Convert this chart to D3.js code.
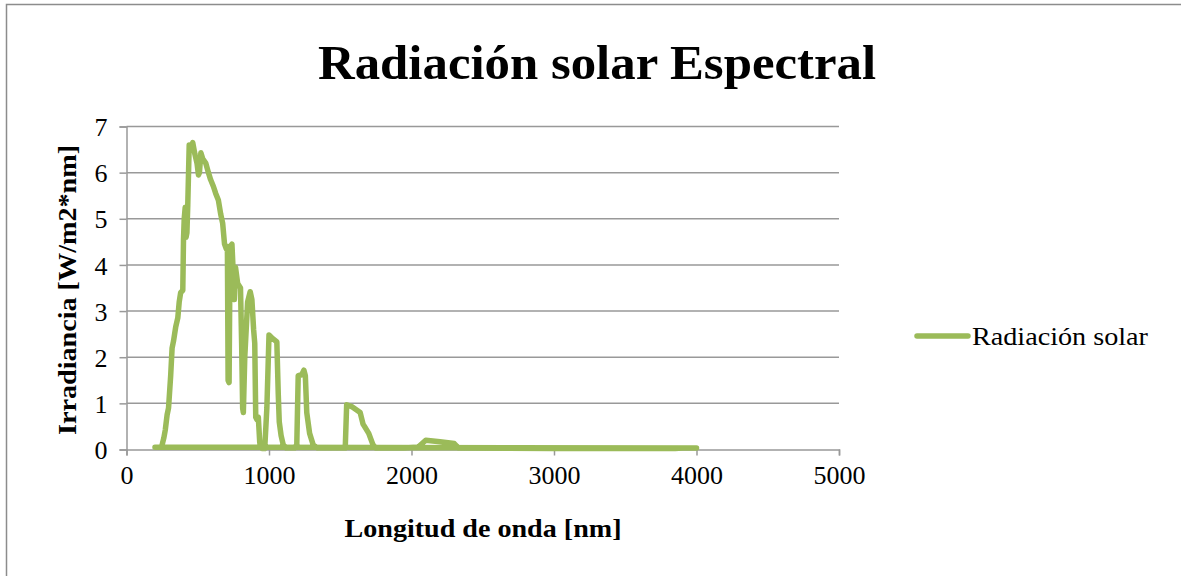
<!DOCTYPE html>
<html>
<head>
<meta charset="utf-8">
<script src="https://cdnjs.cloudflare.com/ajax/libs/d3/7.8.5/d3.min.js"></script>
<style>
  body { margin: 0; background: #fff; }
  text { font-family: "Liberation Serif", "DejaVu Serif", serif; fill: #000; }
</style>
</head>
<body>
<div id="chart"></div>
<script>
// Data
var wavelength = [250, 262, 272, 285, 295, 310, 320, 330, 345, 360, 370, 380, 395, 400, 405, 412, 418, 424, 430, 440,
  455, 465, 480, 495, 505, 512, 522, 535, 557, 575, 590, 610, 626, 645, 661, 675, 688, 700, 708, 713,
  720, 727, 740, 748, 757, 765, 780, 800, 808, 815, 820, 830, 850, 868, 880, 892, 900, 907, 915, 925,
  935, 950, 970, 985, 1000, 1020, 1055, 1065, 1072, 1085, 1100, 1120, 1180, 1195, 1205, 1230, 1245, 1255, 1265, 1285,
  1310, 1340, 1450, 1535, 1545, 1580, 1640, 1660, 1670, 1700, 1730, 1750, 1950, 2045, 2100, 2200, 2300, 2330, 3000, 3850,
  3900, 4000, 200];
var irradiance = [0.1, 0.25, 0.42, 0.75, 0.9, 1.6, 2.2, 2.35, 2.65, 2.85, 3.2, 3.4, 3.45, 4.55, 5.0, 5.25, 4.6, 4.7, 5.3, 6.6,
  6.55, 6.65, 6.4, 6.2, 5.95, 6.0, 6.43, 6.3, 6.2, 6.0, 5.85, 5.7, 5.55, 5.4, 5.1, 4.9, 4.45, 4.35, 4.4, 1.5,
  1.45, 4.4, 4.45, 3.9, 3.25, 3.95, 3.6, 3.5, 2.3, 0.9, 0.8, 2.0, 3.2, 3.42, 3.25, 2.6, 2.3, 0.7, 0.65, 0.7,
  0.15, 0.02, 0.02, 0.9, 2.48, 2.42, 2.33, 1.2, 0.6, 0.3, 0.1, 0.03, 0.03, 0.1, 1.6, 1.62, 1.72, 1.6, 0.8, 0.35,
  0.1, 0.03, 0.03, 0.03, 0.97, 0.93, 0.8, 0.55, 0.5, 0.35, 0.1, 0.03, 0.03, 0.05, 0.2, 0.17, 0.13, 0.03, 0.02, 0.02,
  0.03, 0.03, 0.05];
var xTicks = [0, 1000, 2000, 3000, 4000, 5000];
var yTicks = [0, 1, 2, 3, 4, 5, 6, 7];
var seriesName = "Radiación solar";
var titleText = "Radiación solar Espectral";
var xLabel = "Longitud de onda [nm]";
var yLabel = "Irradiancia [W/m2*nm]";

var width = 1181, height = 576;
var margin = { top: 126.5, left: 126.5, right: 839, bottom: 449.5 };
var green = "#9bbb59";
var grey = "#999";

var svg = d3.select("#chart")
  .append("svg")
  .attr("width", width)
  .attr("height", height);

// chart border
svg.append("rect")
  .attr("x", 6.5).attr("y", 4.5)
  .attr("width", width + 10).attr("height", height + 10)
  .attr("fill", "none")
  .attr("stroke", "#8c8c8c")
  .attr("stroke-width", 1.5);

// Define scales
var xScale = d3.scaleLinear()
  .domain([0, 5000])
  .range([margin.left, margin.right]);

var yScale = d3.scaleLinear()
  .domain([0, 7])
  .range([margin.bottom, margin.top]);

// gridlines
svg.append("g")
  .selectAll("line")
  .data(yTicks.slice(1))
  .enter()
  .append("line")
  .attr("x1", margin.left).attr("x2", margin.right)
  .attr("y1", function(d) { return yScale(d); })
  .attr("y2", function(d) { return yScale(d); })
  .attr("stroke", grey)
  .attr("stroke-width", 1.5);

// Define axes
var xAxis = d3.axisBottom(xScale).tickValues(xTicks).tickSize(6).tickPadding(10).tickFormat(d3.format("d"));
var yAxis = d3.axisLeft(yScale).tickValues(yTicks).tickSize(7).tickPadding(12).tickFormat(d3.format("d"));

var gx = svg.append("g")
  .attr("transform", "translate(0," + margin.bottom + ")")
  .call(xAxis);

var gy = svg.append("g")
  .attr("transform", "translate(" + margin.left + ",0)")
  .call(yAxis);

[gx, gy].forEach(function(g) {
  g.select(".domain").attr("stroke", grey).attr("stroke-width", 1.5);
  g.selectAll(".tick line").attr("stroke", grey).attr("stroke-width", 1.5);
  g.selectAll(".tick text")
    .style("font-family", "'Liberation Serif', serif")
    .style("font-size", "26px")
    .attr("fill", "#000");
});
gy.selectAll(".tick text").attr("dy", "0.35em");

// line
var points = wavelength.map(function(w, i) { return { x: w, y: irradiance[i] }; });

var line = d3.line()
  .x(function(d) { return xScale(d.x); })
  .y(function(d) { return yScale(d.y); });

svg.append("path")
  .datum(points)
  .attr("d", line)
  .attr("fill", "none")
  .attr("stroke", green)
  .attr("stroke-width", 5.5)
  .attr("stroke-linejoin", "round")
  .attr("stroke-linecap", "round");

// title and axis labels
svg.append("text")
  .attr("x", 597).attr("y", 79)
  .attr("text-anchor", "middle")
  .attr("textLength", 558)
  .attr("lengthAdjust", "spacingAndGlyphs")
  .style("font-size", "49px")
  .style("font-weight", "bold")
  .text(titleText);

svg.append("text")
  .attr("x", 483).attr("y", 537)
  .attr("text-anchor", "middle")
  .attr("textLength", 277)
  .attr("lengthAdjust", "spacingAndGlyphs")
  .style("font-size", "26px")
  .style("font-weight", "bold")
  .text(xLabel);

svg.append("text")
  .attr("transform", "translate(76,290) rotate(-90)")
  .attr("text-anchor", "middle")
  .attr("textLength", 290)
  .attr("lengthAdjust", "spacingAndGlyphs")
  .style("font-size", "26px")
  .style("font-weight", "bold")
  .text(yLabel);

// legend
var legend = svg.append("g").attr("transform", "translate(917,336)");
legend.append("line")
  .attr("x1", 0).attr("x2", 51)
  .attr("stroke", green)
  .attr("stroke-width", 5.5)
  .attr("stroke-linecap", "round");
legend.append("text")
  .attr("x", 55).attr("y", 9)
  .attr("textLength", 176)
  .attr("lengthAdjust", "spacingAndGlyphs")
  .style("font-size", "26px")
  .text(seriesName);
</script>
</body>
</html>
